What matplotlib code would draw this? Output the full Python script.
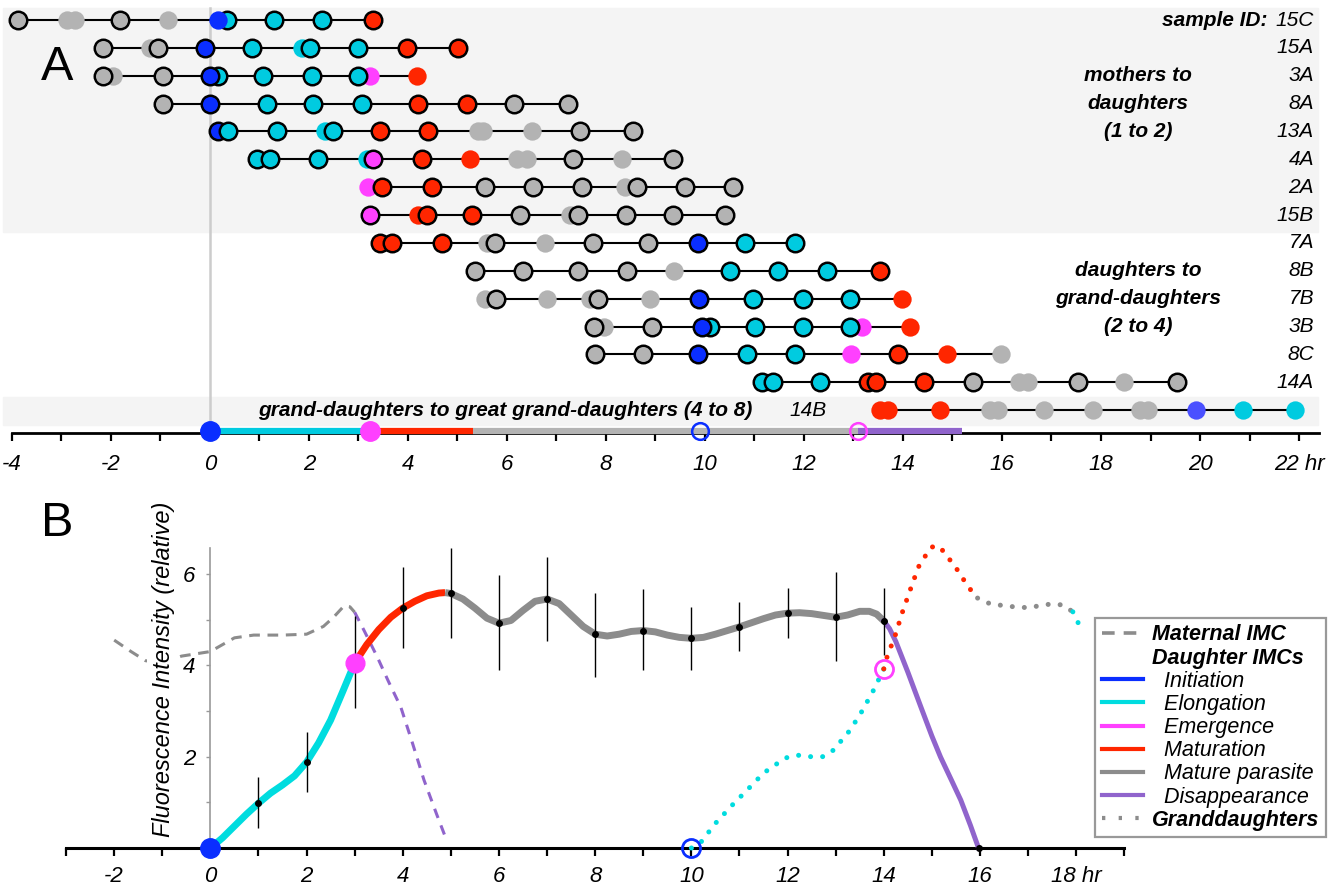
import matplotlib
matplotlib.use('Agg')
import matplotlib.pyplot as plt
from matplotlib.lines import Line2D
from matplotlib.transforms import blended_transform_factory

plt.rcParams['font.family'] = ['Liberation Sans', 'DejaVu Sans']

# ---------------- panel A data (hours) ----------------
# stage code per dot: g gray, b blue, c cyan, m magenta, r red, l light blue
# upper case = dot drawn with a black edge; list order = drawing order
sample_ids = ['15C', '15A', '3A', '8A', '13A', '4A', '2A', '15B',
              '7A', '8B', '7B', '3B', '8C', '14A', '14B']

row_times = [
    [-3.88, -2.89, -2.73, -1.82, -0.85, 0.34, 0.16, 1.29, 2.26, 3.29],
    [-2.16, -1.21, -1.05, -0.10, 0.85, 1.86, 2.02, 2.99, 3.98, 5.01],
    [-1.96, -2.16, -0.95, 0.16, 0.0, 1.07, 2.06, 3.23, 2.99, 4.18],
    [-0.95, 0.0, 1.15, 2.08, 3.07, 4.20, 5.19, 6.14, 7.23],
    [0.16, 0.36, 1.35, 2.32, 2.48, 3.43, 4.40, 5.41, 5.52, 6.51, 7.47, 8.55],
    [0.95, 1.21, 2.18, 3.17, 3.29, 4.28, 5.25, 6.20, 6.40, 7.33, 8.32, 9.35],
    [3.19, 3.47, 4.48, 5.56, 6.53, 7.52, 8.38, 8.63, 9.60, 10.57],
    [3.23, 4.20, 4.38, 5.29, 6.26, 7.27, 7.43, 8.40, 9.35, 10.40],
    [3.43, 3.68, 4.69, 5.60, 5.76, 6.77, 7.74, 8.85, 9.86, 10.81, 11.82],
    [5.35, 6.32, 7.43, 8.42, 9.37, 10.51, 11.47, 12.46, 13.54],
    [5.56, 5.78, 6.81, 7.68, 7.84, 8.89, 9.88, 10.97, 11.98, 12.93, 13.98],
    [7.96, 7.76, 8.93, 10.10, 9.94, 11.01, 11.98, 13.17, 12.93, 14.14],
    [7.78, 8.75, 9.86, 10.85, 11.82, 12.95, 13.90, 14.89, 15.98],
    [11.15, 11.37, 12.32, 13.29, 13.45, 14.42, 15.41, 16.34, 16.53, 17.54, 18.46, 19.54],
    [13.54, 13.70, 14.75, 15.76, 15.92, 16.85, 17.84, 18.79, 18.95, 19.92, 20.87, 21.92],
]
row_stages = [
    ['G', 'g', 'g', 'G', 'g', 'C', 'b', 'C', 'C', 'R'],
    ['G', 'g', 'G', 'B', 'C', 'c', 'C', 'C', 'R', 'R'],
    ['g', 'G', 'G', 'C', 'B', 'C', 'C', 'm', 'C', 'r'],
    ['G', 'B', 'C', 'C', 'C', 'R', 'R', 'G', 'G'],
    ['B', 'C', 'C', 'c', 'C', 'R', 'R', 'g', 'g', 'g', 'G', 'G'],
    ['C', 'C', 'C', 'c', 'M', 'R', 'r', 'g', 'g', 'G', 'g', 'G'],
    ['m', 'R', 'R', 'G', 'G', 'G', 'g', 'G', 'G', 'G'],
    ['M', 'r', 'R', 'R', 'G', 'g', 'G', 'G', 'G', 'G'],
    ['R', 'R', 'R', 'g', 'G', 'g', 'G', 'G', 'B', 'C', 'C'],
    ['G', 'G', 'G', 'G', 'g', 'C', 'C', 'C', 'R'],
    ['g', 'G', 'g', 'g', 'G', 'g', 'B', 'C', 'C', 'C', 'r'],
    ['g', 'G', 'G', 'C', 'B', 'C', 'C', 'm', 'C', 'r'],
    ['G', 'G', 'B', 'C', 'C', 'm', 'R', 'r', 'g'],
    ['C', 'C', 'C', 'R', 'R', 'R', 'G', 'g', 'g', 'G', 'g', 'G'],
    ['r', 'r', 'r', 'g', 'g', 'g', 'g', 'g', 'g', 'l', 'c', 'c'],
]

# summary bar under panel A
bar_edges = [0.0, 3.23, 5.31, 13.1, 15.2]
bar_stages = ['c', 'r', 'g', 'p']
first_init, first_emerg = 0.0, 3.23
next_init, next_emerg = 9.9, 13.1

# ---------------- panel B data ----------------
hours_b = [1, 2, 3, 4, 5, 6, 7, 8, 9, 10, 11, 12, 13, 14]
mean_b = [0.98, 1.88, 4.05, 5.25, 5.58, 4.92, 5.45, 4.68, 4.75, 4.59, 4.84, 5.14, 5.05, 4.97]
low_b = [0.44, 1.23, 3.06, 4.38, 4.59, 3.90, 4.53, 3.74, 3.90, 3.90, 4.31, 4.59, 4.09, 4.22]
high_b = [1.55, 2.54, 5.08, 6.15, 6.56, 5.97, 6.37, 5.58, 5.67, 5.28, 5.38, 5.69, 6.04, 5.69]

maternal_t = [-2.0, -1.65, -1.35, -1.0, -0.6, 0.0, 0.5, 0.9, 1.5, 2.0, 2.35, 2.56, 2.78, 2.9, 3.0]
maternal_v = [4.55, 4.3, 4.1, 4.05, 4.2, 4.3, 4.6, 4.66, 4.66, 4.68, 4.85, 5.05, 5.3, 5.28, 5.16]
mat_dis_t = [3.0, 3.2, 3.47, 3.7, 3.96, 4.2, 4.44, 4.7, 4.9]
mat_dis_v = [5.16, 4.75, 4.18, 3.65, 3.08, 2.3, 1.49, 0.75, 0.2]

elong_t = [0, 0.25, 0.5, 0.75, 1.0, 1.25, 1.5, 1.75, 2.0, 2.25, 2.5, 2.75, 3.0]
elong_v = [0, 0.22, 0.48, 0.74, 0.98, 1.2, 1.38, 1.58, 1.88, 2.3, 2.8, 3.42, 4.05]
matur_t = [3.0, 3.25, 3.5, 3.75, 4.0, 4.25, 4.5, 4.75, 4.88]
matur_v = [4.05, 4.45, 4.78, 5.05, 5.25, 5.4, 5.52, 5.58, 5.59]
mature_t = [4.88, 5.0, 5.25, 5.5, 5.75, 6.0, 6.25, 6.5, 6.75, 7.0, 7.25, 7.5, 7.75, 8.0,
            8.25, 8.5, 8.75, 9.0, 9.25, 9.5, 9.75, 10.0, 10.25, 10.5, 10.75, 11.0, 11.25,
            11.5, 11.75, 12.0, 12.25, 12.5, 12.75, 13.0, 13.25, 13.5, 13.7, 13.85, 14.0]
mature_v = [5.59, 5.57, 5.45, 5.25, 5.03, 4.92, 4.98, 5.2, 5.4, 5.45, 5.35, 5.1, 4.85, 4.68,
            4.64, 4.68, 4.74, 4.76, 4.73, 4.66, 4.61, 4.59, 4.61, 4.68, 4.76, 4.84, 4.93,
            5.02, 5.1, 5.14, 5.15, 5.13, 5.09, 5.05, 5.1, 5.18, 5.18, 5.12, 4.97]
disap_t = [14.0, 14.12, 14.25, 14.5, 14.77, 15.0, 15.18, 15.4, 15.6, 15.8, 15.97]
disap_v = [4.97, 4.8, 4.52, 3.85, 3.09, 2.45, 1.99, 1.5, 1.05, 0.5, 0.0]

gd_elong_t = [10.0, 10.2, 10.5, 10.85, 11.16, 11.5, 11.95, 12.22, 12.47, 12.74, 12.95, 13.3, 13.55, 13.79, 14.0]
gd_elong_v = [0.0, 0.13, 0.54, 0.94, 1.27, 1.64, 1.97, 2.03, 2.0, 2.0, 2.14, 2.58, 3.0, 3.46, 3.92]
gd_matur_t = [14.0, 14.07, 14.24, 14.38, 14.55, 14.72, 14.97, 15.08, 15.18, 15.49, 15.76, 15.95]
gd_matur_v = [3.92, 4.19, 4.66, 5.14, 5.65, 6.15, 6.57, 6.62, 6.57, 6.15, 5.71, 5.47]
gd_mature_t = [15.95, 16.22, 16.7, 16.99, 17.47, 17.72, 17.93]
gd_mature_v = [5.47, 5.34, 5.28, 5.26, 5.34, 5.32, 5.17]
gd_next_t = [17.93, 18.0, 18.05]
gd_next_v = [5.17, 5.05, 4.9]

legend_labels = ['Maternal IMC', 'Daughter IMCs', '  Initiation', '  Elongation', '  Emergence',
                 '  Maturation', '  Mature parasite', '  Disappearance', 'Granddaughters']

# ---------------- colours ----------------
BLUE = '#0a2eff'
CYAN_A = '#00cbe0'
CYAN_B = '#00dcdf'
MAG = '#ff40ff'
RED = '#ff2600'
GRAY_A = '#b3b3b3'
GRAY_B = '#8c8c8c'
PURPLE = '#9064cc'
LBLUE = '#4a50ff'
stage_color = {'g': GRAY_A, 'b': BLUE, 'c': CYAN_A, 'm': MAG, 'r': RED, 'l': LBLUE, 'p': PURPLE}

fig = plt.figure(figsize=(13.34, 8.89), dpi=100)
fig.patch.set_facecolor('white')

# ================= panel A =================
ax = fig.add_axes([0, 0.46, 1, 0.54])
ax.set_xlim(-4.242, 22.707)
ax.set_ylim(16.51, -0.718)
axis_y = 14.83
trans = blended_transform_factory(ax.transAxes, ax.transData)

ax.axhspan(-0.43, 7.61, xmin=3 / 1334, xmax=1318 / 1334, color='#f4f4f4', zorder=0)
ax.axhspan(13.53, 14.54, xmin=3 / 1334, xmax=1318 / 1334, color='#f4f4f4', zorder=0)
ax.plot([0, 0], [-0.43, axis_y], color='#cccccc', lw=1.8, zorder=1)

for i, (times, stages) in enumerate(zip(row_times, row_stages)):
    ax.plot([min(times), max(times)], [i, i], color='black', lw=1.5, zorder=2)
    for k, (t, s) in enumerate(zip(times, stages)):
        col = stage_color[s.lower()]
        if s.isupper():
            ax.plot(t, i, 'o', ms=12.6, mfc=col, mec='black', mew=1.8, zorder=3 + k * 0.01)
        else:
            ax.plot(t, i, 'o', ms=13.2, mfc=col, mec='none', zorder=3 + k * 0.01)
    if i < len(sample_ids) - 1:
        ax.text(1314 / 1334, i, sample_ids[i], transform=trans, ha='right', va='center',
                fontsize=15, style='italic')

ax.text(808 / 1334, 14, sample_ids[-1], transform=trans, ha='center', va='center',
        fontsize=15, style='italic')
ax.text(1268 / 1334, 0, 'sample ID:', transform=trans, ha='right', va='center',
        fontsize=15, style='italic', weight='bold')
for j, line in enumerate(['mothers to', 'daughters', '(1 to 2)']):
    ax.text(1138 / 1334, 2 + j, line, transform=trans, ha='center', va='center',
            fontsize=15, style='italic', weight='bold')
for j, line in enumerate(['daughters to', 'grand-daughters', '(2 to 4)']):
    ax.text(1138 / 1334, 9 + j, line, transform=trans, ha='center', va='center',
            fontsize=15, style='italic', weight='bold')
ax.text(505 / 1334, 14, 'grand-daughters to great grand-daughters (4 to 8)', transform=trans,
        ha='center', va='center', fontsize=15, style='italic', weight='bold')

# summary bar on the time axis
bar_y = 14.76
for a, b, s in zip(bar_edges[:-1], bar_edges[1:], bar_stages):
    ax.plot([a, b], [bar_y, bar_y], color=stage_color[s], lw=4.5, solid_capstyle='butt', zorder=3)
ax.plot(first_init, bar_y, 'o', ms=14, color=BLUE, zorder=4)
ax.plot(first_emerg, bar_y, 'o', ms=14, color=MAG, zorder=4)
ax.plot(next_init, bar_y, 'o', ms=12, mfc='none', mec=BLUE, mew=1.8, zorder=4)
ax.plot(next_emerg, bar_y, 'o', ms=12, mfc='none', mec=MAG, mew=1.8, zorder=4)

for side in ['top', 'left', 'right']:
    ax.spines[side].set_visible(False)
ax.spines['bottom'].set_position(('data', axis_y))
ax.spines['bottom'].set_bounds(-4, 22.4)
ax.spines['bottom'].set_linewidth(2.0)
ax.set_yticks([])
ax.set_xticks(range(-4, 23, 2), [str(v) for v in range(-4, 21, 2)] + ['22 hr'],
              fontsize=16, style='italic')
ax.set_xticks(range(-3, 23, 2), minor=True)
ax.tick_params(axis='x', which='both', direction='out', length=6, width=1.6, pad=9)
ax.patch.set_alpha(0)

fig.text(57 / 1334, 1 - 68 / 889, 'A', fontsize=35, ha='center', va='center')
fig.text(57 / 1334, 1 - 523 / 889, 'B', fontsize=35, ha='center', va='center')

# ================= panel B =================
bx = fig.add_axes([0, 0, 1, 0.46])
bx.set_xlim(-4.374, 23.36)
bx.set_ylim(-0.897, 8.053)
bx.patch.set_alpha(0)

bx.plot(maternal_t, maternal_v, color=GRAY_B, lw=2.2, dashes=(3.5, 2.5), zorder=2)
bx.plot(mat_dis_t, mat_dis_v, color=PURPLE, lw=2.2, dashes=(3.2, 2.6), zorder=2)
bx.plot(elong_t, elong_v, color=CYAN_B, lw=5, solid_capstyle='round', zorder=3)
bx.plot(matur_t, matur_v, color=RED, lw=5, solid_capstyle='butt', zorder=3)
bx.plot(mature_t, mature_v, color=GRAY_B, lw=5, solid_capstyle='butt', zorder=3)
bx.plot(disap_t, disap_v, color=PURPLE, lw=3.6, zorder=3)

dot_style = dict(lw=3.6, dashes=(0.01, 2.4), dash_capstyle='round', zorder=3)
bx.plot(gd_elong_t, gd_elong_v, color=CYAN_B, **dot_style)
bx.plot(gd_matur_t, gd_matur_v, color=RED, **dot_style)
bx.plot(gd_mature_t, gd_mature_v, color=GRAY_B, **dot_style)
bx.plot(gd_next_t, gd_next_v, color=CYAN_B, **dot_style)

yerr = [[m - lo for m, lo in zip(mean_b, low_b)], [hi - m for m, hi in zip(mean_b, high_b)]]
bx.errorbar(hours_b, mean_b, yerr=yerr, fmt='o', color='black', ms=4, elinewidth=1.0,
            capsize=0, zorder=4)
bx.plot(disap_t[-1], disap_v[-1], 'o', color='black', ms=4, zorder=4)
bx.plot(elong_t[0], elong_v[0], 'o', color=BLUE, ms=14, zorder=6)
bx.plot(elong_t[-1], elong_v[-1], 'o', color=MAG, ms=13.5, zorder=6)
bx.plot(gd_elong_t[0], gd_elong_v[0], 'o', mfc='none', mec=BLUE, mew=2, ms=13, zorder=6)
bx.plot(gd_elong_t[-1], gd_elong_v[-1], 'o', mfc='none', mec=MAG, mew=2, ms=13, zorder=6)

bx.text(-0.985, 3.92, 'Fluorescence Intensity (relative)', rotation=90, ha='center',
        va='center', fontsize=17, style='italic', zorder=5,
        bbox=dict(fc='white', ec='none', pad=3))

for side in ['top', 'right']:
    bx.spines[side].set_visible(False)
bx.spines['bottom'].set_position(('data', 0))
bx.spines['bottom'].set_bounds(-3, 19)
bx.spines['bottom'].set_linewidth(2.2)
bx.spines['left'].set_position(('data', 0))
bx.spines['left'].set_bounds(0, 6.56)
bx.spines['left'].set_color('#999999')
bx.spines['left'].set_linewidth(1.2)
bx.set_xticks(range(-2, 19, 2), [str(v) for v in range(-2, 17, 2)] + ['18 hr'],
              fontsize=16, style='italic')
bx.set_xticks(range(-3, 20, 2), minor=True)
bx.tick_params(axis='x', which='both', direction='out', length=6, width=1.6, pad=7)
bx.set_yticks(range(1, 7), ['', '2', '', '4', '', '6'], fontsize=16, style='italic')
bx.tick_params(axis='y', direction='out', length=3, width=1.0, color='#999999', pad=8)

handles = [Line2D([], [], color=GRAY_B, lw=2.6, dashes=(3.5, 2.5)),
           Line2D([], [], color='none'),
           Line2D([], [], color=BLUE, lw=3),
           Line2D([], [], color=CYAN_B, lw=3),
           Line2D([], [], color=MAG, lw=3),
           Line2D([], [], color=RED, lw=3),
           Line2D([], [], color=GRAY_B, lw=3),
           Line2D([], [], color=PURPLE, lw=3),
           Line2D([], [], color=GRAY_B, lw=3, dashes=(0.8, 3.2))]
leg = bx.legend(handles, legend_labels, loc='upper left', bbox_to_anchor=(0.821, 0.6626),
                bbox_transform=bx.transAxes, fontsize=15.5, fancybox=False, framealpha=1,
                edgecolor='#999999', labelspacing=0.1, handlelength=1.9, handletextpad=0.45,
                borderpad=0.3, borderaxespad=0)
leg.get_frame().set_linewidth(1.6)
for k, txt in enumerate(leg.get_texts()):
    txt.set_style('italic')
    if k in (0, 1, 8):
        txt.set_weight('bold')

fig.savefig('out.png', dpi=100, facecolor='white')
